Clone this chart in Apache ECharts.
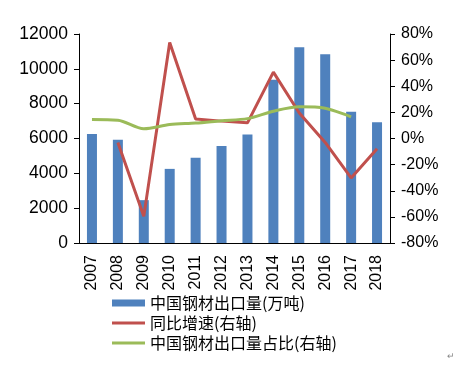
<!DOCTYPE html>
<html><head><meta charset="utf-8">
<script src="https://cdn.jsdelivr.net/npm/echarts@6/dist/echarts.min.js"></script>
<style>html,body{margin:0;padding:0;background:#fff}#c{width:466px;height:367px}</style>
</head><body><div id="c"></div>
<script>
const years = ['2007','2008','2009','2010','2011','2012','2013','2014','2015','2016','2017','2018'];
const exportVolume = [6265, 5923, 2460, 4256, 4888, 5573, 6234, 9378, 11240, 10843, 7541, 6934];
const yoyGrowth = [null, -3, -59.6, 73.5, 14.9, 13.3, 12, 50.8, 19.5, -3, -30.2, -7.9];
const exportShare = [14.5, 14, 7.5, 10.7, 11.8, 13.6, 15.2, 20.9, 24.3, 23.2, 16.6, null];
const leftTicks = {min: 0, max: 12000, interval: 2000};
const rightTicks = {min: -80, max: 80, interval: 20};
const names = ['中国钢材出口量(万吨)', '同比增速(右轴)', '中国钢材出口量占比(右轴)'];

const chart = echarts.init(document.getElementById('c'), null, {renderer: 'canvas'});
const axisFont = {fontFamily: 'Liberation Sans, Arial, sans-serif', fontSize: 16, color: '#000'};
const lineIcon = 'path://M0,0 L33,0 L33,3 L0,3 Z';
chart.setOption({
  animation: false,
  grid: {left: 79, right: 76, top: 34, bottom: 124},
  legend: {
    orient: 'vertical', left: 112, top: 295, padding: 0, itemGap: 4, itemWidth: 33, itemHeight: 7,
    textStyle: {fontFamily: 'Noto Sans CJK SC', fontSize: 16, lineHeight: 16, color: '#000'},
    data: [{name: names[0], icon: 'rect'}, {name: names[1], icon: lineIcon}, {name: names[2], icon: lineIcon}]
  },
  xAxis: {
    type: 'category', data: years,
    axisLine: {lineStyle: {color: '#000', width: 1}},
    axisTick: {show: false},
    axisLabel: Object.assign({rotate: 90, margin: 12, interval: 0}, axisFont)
  },
  yAxis: [
    Object.assign({type: 'value', splitLine: {show: false},
      axisLine: {show: true, lineStyle: {color: '#000'}},
      axisTick: {show: true, length: 5, lineStyle: {color: '#000'}},
      axisLabel: Object.assign({margin: 11, formatter: v => String(v)}, axisFont, {fontSize: 17.5})}, leftTicks),
    Object.assign({type: 'value', position: 'right', splitLine: {show: false},
      axisLine: {show: true, lineStyle: {color: '#000'}},
      axisTick: {show: true, length: 5, lineStyle: {color: '#000'}},
      axisLabel: Object.assign({margin: 11, formatter: '{value}%'}, axisFont)}, rightTicks)
  ],
  series: [
    {name: names[0], type: 'bar', data: exportVolume, barWidth: 10,
      itemStyle: {color: '#4F81BD'}},
    {name: names[1], type: 'line', yAxisIndex: 1, data: yoyGrowth, symbol: 'none',
      lineStyle: {color: '#C0504D', width: 3}, itemStyle: {color: '#C0504D'}},
    {name: names[2], type: 'line', yAxisIndex: 1, data: exportShare, symbol: 'none', smooth: 0.3,
      lineStyle: {color: '#9BBB59', width: 3}, itemStyle: {color: '#9BBB59'}}
  ],
  graphic: [{type: 'text', left: 447, top: 352, style: {text: '↵', fontSize: 9, fill: '#888'}}]
});
</script></body></html>
